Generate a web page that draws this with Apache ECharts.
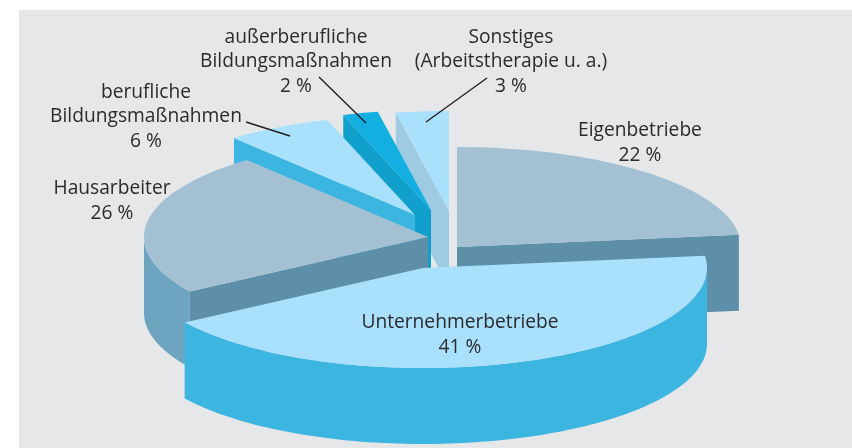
<!DOCTYPE html>
<html>
<head>
<meta charset="utf-8">
<style>html,body{margin:0;padding:0;background:#fff}#main{width:852px;height:448px}</style>
<script src="https://cdn.jsdelivr.net/npm/echarts@6/dist/echarts.min.js"></script>
</head>
<body>
<div id="main"></div>
<script>
// clockwise from 12 o'clock
const categories = ['Eigenbetriebe', 'Unternehmerbetriebe', 'Hausarbeiter', 'berufliche\nBildungsmaßnahmen', 'außerberufliche\nBildungsmaßnahmen', 'Sonstiges\n(Arbeitstherapie u. a.)'];
const shares = [22, 41, 26, 6, 2, 3];
// the slices in the drawing are not quite what the printed labels say
const drawnShares = [23.05, 42.8, 23.15, 6, 2, 3];

// layout, same order as categories
const apex = [[457, 247], [423, 268], [428, 237], [415, 215], [431, 210], [449, 211]];
const labelPos = [[640, 143], [460, 335], [112, 201], [146, 117], [296, 62], [511, 62]];
const leaders = [null, null, null, [[246, 122], [290, 136]], [[319, 77], [366, 123]], [[487, 78], [426, 122]]];
const topColor = ['#a3c1d3', '#a9e0fc', '#a3c1d3', '#a9e0fc', '#12afe0', '#a9e0fc'];
const faceColor = ['#5d90a8', '#3cb6e0', '#5d90a8', '#3cb6e0', '#10a0cb', '#9ecbe2'];
const wallColor = ['#6da5c1', '#3cb6e0', '#6da5c1', '#3cb6e0', '#10a0cb', '#9ecbe2'];
const paintOrder = [0, 5, 4, 3, 2, 1];

const rx = 284, ry = 100, depth = 76;
const rad = Math.PI / 180;

function rim(i, deg, drop) {
  return [apex[i][0] + rx * Math.sin(deg * rad), apex[i][1] - ry * Math.cos(deg * rad) + (drop || 0)];
}
function arc(i, from, to, drop) {
  const pts = [];
  const n = Math.max(2, Math.ceil((to - from) / 1.5));
  for (let k = 0; k <= n; k++) pts.push(rim(i, from + (to - from) * k / n, drop));
  return pts;
}
function poly(points, fill) {
  return { type: 'polygon', shape: { points: points }, style: { fill: fill } };
}
function faceAt(i, deg) {
  const a = apex[i], p = rim(i, deg);
  return poly([a, p, [p[0], p[1] + depth], [a[0], a[1] + depth]], faceColor[i]);
}

let sum = 0;
const angles = drawnShares.map(s => {
  const from = sum;
  sum += s * 3.6;
  return [from, sum];
});
const rows = paintOrder.map(i => [i, angles[i][0], angles[i][1]]);

function renderSlice(params, api) {
  const i = api.value(0), from = api.value(1), to = api.value(2);
  const kids = [];
  // outer wall only where the rim faces the viewer
  const wFrom = Math.max(from, 90), wTo = Math.min(to, 270);
  if (wTo > wFrom) {
    kids.push(poly(arc(i, wFrom, wTo, 0).concat(arc(i, wFrom, wTo, depth).reverse()), wallColor[i]));
  }
  // cut faces
  if (Math.sin(to * rad) > 0.001) kids.push(faceAt(i, to));
  if (Math.sin(from * rad) < -0.001) kids.push(faceAt(i, from));
  kids.push(poly([apex[i]].concat(arc(i, from, to, 0)), topColor[i]));
  return { type: 'group', children: kids };
}

const textEls = categories.map((c, i) => ({
  type: 'text',
  x: labelPos[i][0],
  y: labelPos[i][1],
  z: 20,
  style: {
    text: c + '\n' + shares[i] + ' %',
    fill: '#2b2a2c',
    font: '19.2px "Open Sans"',
    lineHeight: 24.5,
    align: 'center',
    verticalAlign: 'middle'
  }
}));
const lineEls = leaders.filter(l => l).map(l => ({
  type: 'line',
  z: 20,
  shape: { x1: l[0][0], y1: l[0][1], x2: l[1][0], y2: l[1][1] },
  style: { stroke: '#231f20', lineWidth: 1.4 }
}));

const chart = echarts.init(document.getElementById('main'));
chart.setOption({
  animation: false,
  backgroundColor: '#fff',
  graphic: [
    { type: 'rect', z: -10, shape: { x: 19, y: 10, width: 833, height: 438 }, style: { fill: '#e6e7e9' } }
  ].concat(lineEls, textEls),
  series: [{
    type: 'custom',
    coordinateSystem: 'none',
    z: 2,
    data: rows,
    renderItem: renderSlice
  }]
});
</script>
</body>
</html>
